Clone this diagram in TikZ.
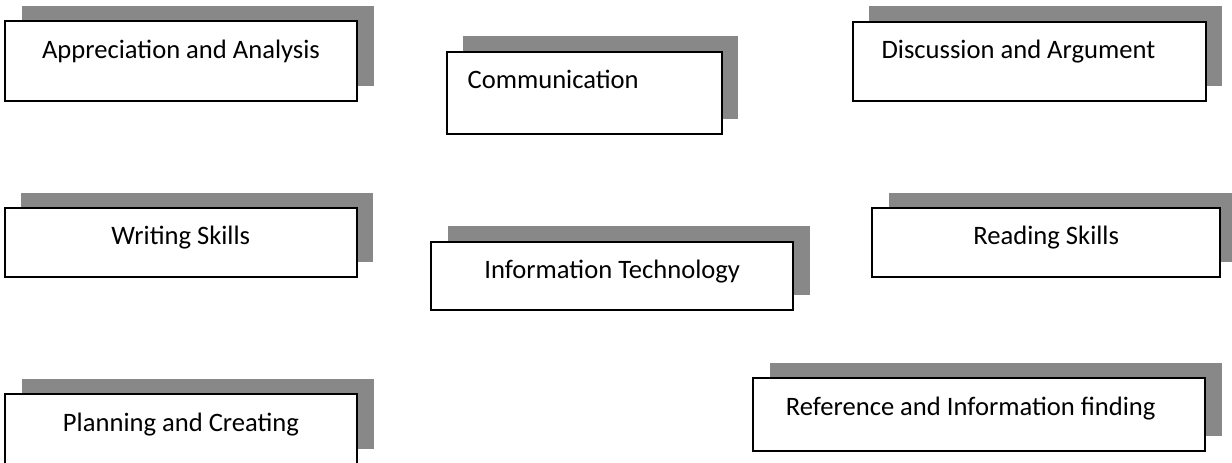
\documentclass[tikz,border=0pt]{standalone}
\usepackage{fontspec}
\setmainfont{Carlito}
\usetikzlibrary{shadows}
\definecolor{shadowgray}{RGB}{136,136,136}
\tikzset{
  skillbox/.style={draw=black, line width=1.8pt, fill=white, inner sep=0pt,
    font=\fontsize{26.6}{30}\selectfont, anchor=base,
    drop shadow={shadow xshift=16.5pt, shadow yshift=15.5pt, fill=shadowgray, opacity=1}}
}
\begin{document}
\begin{tikzpicture}[x=1pt,y=-1pt]
    \useasboundingbox (0,0) rectangle (1232,463);
    \clip (0,0) rectangle (1232,463);
    \node[skillbox, minimum width=352, text height=37, text depth=43] (apprec) at (181,58) {Appreciation and Analysis};
    \node[skillbox, anchor=base west, align=flush left, text width=233.3, inner xsep=21, text height=36.6, text depth=45.7] (comm) at (445.7,88.3) {Communication};
    \node[skillbox, anchor=base west, align=flush left, text width=295.3, inner xsep=29, text height=36.6, text depth=42.7] (discuss) at (851.7,58.3) {Discussion and Argument};
    \node[skillbox, minimum width=351.7, text height=35.7, text depth=33.3] (writing) at (180.8,244) {Writing Skills};
    \node[skillbox, minimum width=362.3, text height=36.6, text depth=31.7] (infotech) at (612.2,278.3) {Information Technology};
    \node[skillbox, minimum width=347.7, text height=35.7, text depth=33.3] (reading) at (1046.2,244) {Reading Skills};
    \node[skillbox, minimum width=352, text height=37.4, text depth=33] (planning) at (181,431.7) {Planning and Creating};
    \node[skillbox, anchor=base west, align=flush left, text width=386.6, inner xsep=32.7, text height=36.7, text depth=36] (reference) at (752.3,415) {Reference and Information finding};
\end{tikzpicture}
\end{document}
